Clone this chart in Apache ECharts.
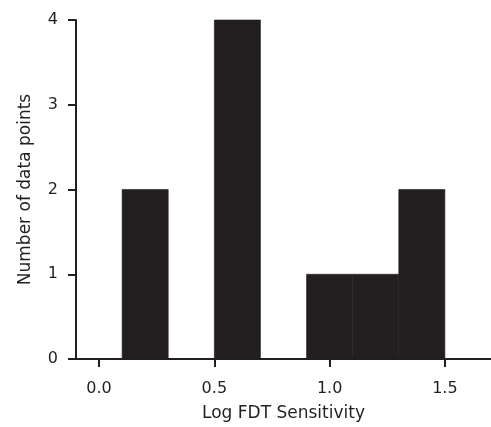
<!DOCTYPE html>
<html>
<head>
<meta charset="utf-8">
<script src="https://cdn.jsdelivr.net/npm/echarts@6/dist/echarts.min.js"></script>
<style>html,body{margin:0;padding:0;background:#fff}#c{width:491px;height:427px}</style>
</head>
<body>
<div id="c"></div>
<script>
var binStarts = [0.1, 0.3, 0.5, 0.7, 0.9, 1.1, 1.3];
var binEnds   = [0.3, 0.5, 0.7, 0.9, 1.1, 1.3, 1.5];
var counts    = [2, 0, 4, 0, 1, 1, 2];
var xTicks = [0, 0.5, 1.0, 1.5];
var yTicks = [0, 1, 2, 3, 4];

var data = binStarts.map(function (s, i) { return [s, binEnds[i], counts[i]]; });
var ink = '#231f20';
var font = 'DejaVu Sans';
var chart = echarts.init(document.getElementById('c'));
chart.setOption({
  animation: false,
  grid: { left: 76, right: 0, top: 20, bottom: 66 },
  xAxis: {
    type: 'value', min: -0.1, max: 1.7,
    name: 'Log FDT Sensitivity', nameLocation: 'middle', nameGap: 46,
    nameTextStyle: { color: ink, fontSize: 17, fontFamily: font },
    axisLine: { onZero: false, lineStyle: { color: ink, width: 2 } },
    axisTick: { show: true, customValues: xTicks, length: 8, lineStyle: { color: ink, width: 2 } },
    axisLabel: { customValues: xTicks, margin: 22, color: ink, fontSize: 16, fontFamily: font,
      formatter: function (v) { return v.toFixed(1); } },
    splitLine: { show: false }
  },
  yAxis: {
    type: 'value', min: 0, max: 4, interval: 1,
    name: 'Number of data points', nameLocation: 'middle', nameGap: 42,
    nameTextStyle: { color: ink, fontSize: 17, fontFamily: font },
    axisLine: { show: true, onZero: false, lineStyle: { color: ink, width: 2 } },
    axisTick: { show: true, length: 8, lineStyle: { color: ink, width: 2 } },
    axisLabel: { margin: 18, color: ink, fontSize: 16, fontFamily: font },
    splitLine: { show: false }
  },
  series: [{
    type: 'custom',
    data: data,
    encode: { x: [0, 1], y: 2 },
    renderItem: function (params, api) {
      var p0 = api.coord([api.value(0), 0]);
      var p1 = api.coord([api.value(1), api.value(2)]);
      return {
        type: 'rect',
        shape: { x: p0[0], y: p1[1], width: p1[0] - p0[0], height: p0[1] - p1[1] },
        style: { fill: ink, stroke: ink, lineWidth: 0.6 }
      };
    }
  }]
});
</script>
</body>
</html>
